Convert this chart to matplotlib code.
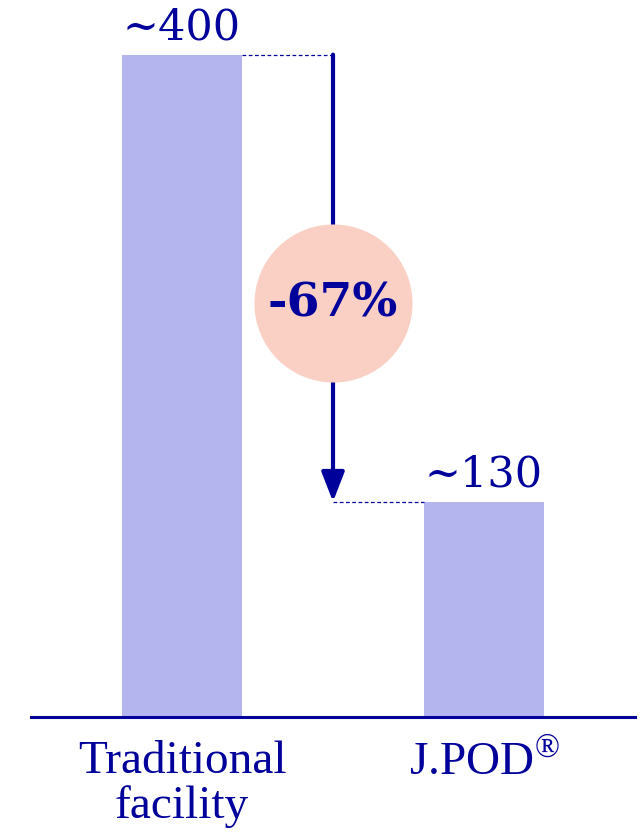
import matplotlib.pyplot as plt

categories = ['Traditional\nfacility', r'J.POD$^{\mathrm{®}}$']
values = [400, 130]
value_labels = ['~400', '~130']
change_label = '-67%'

bar_color = '#b4b4ee'
navy = '#00009a'
pink = '#f9d0c3'

plt.rcParams['mathtext.fontset'] = 'custom'
plt.rcParams['mathtext.rm'] = 'Liberation Serif'

fig = plt.figure(figsize=(6.42, 8.33), dpi=100)
ax = fig.add_axes([0.0483, 0.1393, 0.9408, 0.8607])

x = range(len(values))
ax.bar(x, values, width=0.4, color=bar_color, zorder=2)
ax.set_xlim(-0.5, 1.5)
ax.set_ylim(0, 433)

for xi, v, lab in zip(x, values, value_labels):
    ax.annotate(lab, (xi, v), xytext=(0, 11), textcoords='offset points',
                ha='center', va='baseline', fontsize=31, color=navy,
                family='DejaVu Serif')

# dashed guides and drop arrow
mid = 0.5
ax.plot([0.2, mid], [values[0], values[0]], ls=(0, (3, 2)), lw=0.9, color=navy)
ax.plot([mid, 0.8], [values[1], values[1]], ls=(0, (3, 2)), lw=0.9, color=navy)
ax.annotate('', xy=(mid, values[1]), xytext=(mid, values[0]),
            arrowprops=dict(arrowstyle='-|>,head_length=0.9,head_width=0.35',
                            lw=3, color=navy, shrinkA=0, shrinkB=0,
                            mutation_scale=20))

circ_y = 250
ax.scatter([mid], [circ_y], s=12950, color=pink, zorder=3, linewidths=0)
ax.text(mid, circ_y, change_label, ha='center', va='center', fontsize=34,
        fontweight='bold', color=navy, family='DejaVu Serif', zorder=4)

for s in ['top', 'right', 'left']:
    ax.spines[s].set_visible(False)
ax.spines['bottom'].set_color(navy)
ax.spines['bottom'].set_linewidth(2.2)
ax.set_yticks([])
ax.set_xticks(list(x))
ax.set_xticklabels(categories, fontsize=34, color=navy, family='Liberation Serif',
                   linespacing=1.05)
ax.tick_params(axis='x', length=0, pad=17)

fig.savefig('out.png', dpi=100)
